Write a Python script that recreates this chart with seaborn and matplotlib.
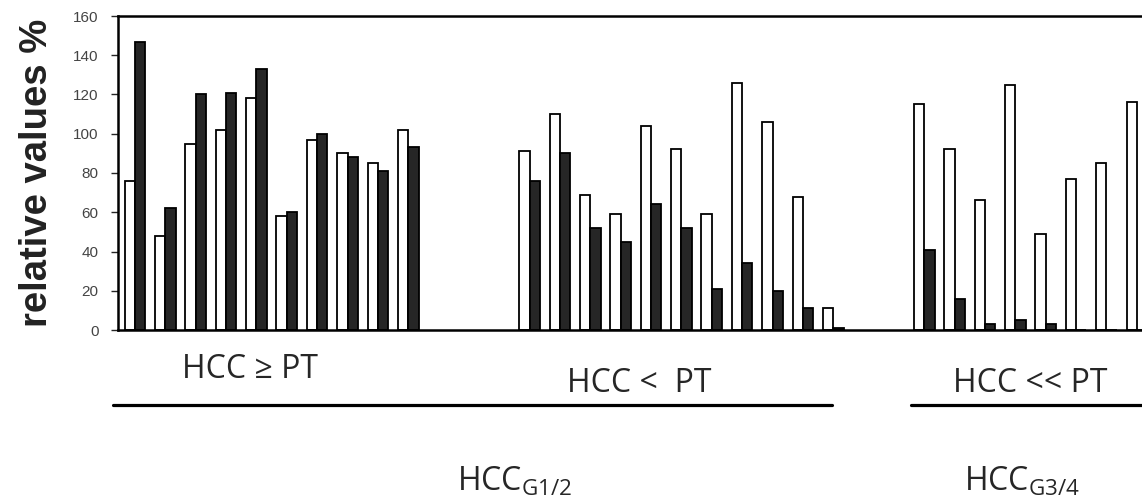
import numpy as np
import pandas as pd
import matplotlib
matplotlib.use("Agg")
import matplotlib.pyplot as plt
import seaborn as sns

# relative values (%), white bar = HCC, dark bar = PT
hcc_ge = [76, 48, 95, 102, 118, 58, 97, 90, 85, 102]
pt_ge = [147, 62, 120, 121, 133, 60, 100, 88, 81, 93]
hcc_lt = [91, 110, 69, 59, 104, 92, 59, 126, 106, 68, 11]
pt_lt = [76, 90, 52, 45, 64, 52, 21, 34, 20, 11, 1]
hcc_g34 = [115, 92, 66, 125, 49, 77, 85, 116]
pt_g34 = [41, 16, 3, 5, 3, 0, 0, 0]

group_names = ["ge", "lt", "g34"]
gaps_after = [3, 2, 0]  # empty slots between groups
ylabel = "relative values %"
yticks = [0, 20, 40, 60, 80, 100, 120, 140, 160]

# build long table + category order with empty spacer slots
rows = []
order = []
starts = {}
ends = {}
for name, hcc, pt, gap in zip(group_names, [hcc_ge, hcc_lt, hcc_g34],
                              [pt_ge, pt_lt, pt_g34], gaps_after):
    starts[name] = len(order)
    for i, (a, b) in enumerate(zip(hcc, pt)):
        cat = f"{name}_{i}"
        order.append(cat)
        rows.append({"sample": cat, "series": "HCC", "value": a})
        rows.append({"sample": cat, "series": "PT", "value": b})
    ends[name] = len(order) - 1
    for j in range(gap):
        order.append(f"{name}_gap{j}")
df = pd.DataFrame(rows)

sns.set_style("white")
plt.rcParams["font.family"] = ["Liberation Sans", "DejaVu Sans"]

fig = plt.figure(figsize=(11.42, 5.0), dpi=100)
ax = fig.add_axes([118 / 1142, 1 - 330 / 500, 1 - 118 / 1142, 314 / 500])

sns.barplot(data=df, x="sample", y="value", hue="series", order=order,
            hue_order=["HCC", "PT"], palette={"HCC": "white", "PT": "#262626"},
            edgecolor="black", linewidth=1.3, width=0.68, saturation=1,
            legend=False, ax=ax)

ax.set_xlim(-0.56, 33.17)
ax.set_ylim(0, 160)
ax.set_yticks(yticks)
ax.set_xticks([])
ax.set_xlabel("")
ax.set_ylabel(ylabel, fontsize=27.5, fontweight="bold", color="#222222")
ax.yaxis.set_label_coords(-0.062, 0.5)
ax.tick_params(axis="y", length=5, width=1, pad=9, labelsize=11,
               labelcolor="#444444", direction="out", left=True)
for s in ["left", "top", "bottom"]:
    ax.spines[s].set_visible(True)
    ax.spines[s].set_color("black")
    ax.spines[s].set_linewidth(1.8)
ax.spines["right"].set_visible(False)

# group brackets and labels below the axis
tr = ax.get_xaxis_transform()
lab_font = ["Open Sans", "DejaVu Sans"]
plt.rcParams["mathtext.fontset"] = "custom"
plt.rcParams["mathtext.rm"] = "Open Sans"
ax.plot([starts["ge"] - 0.72, ends["lt"] - 0.04], [-0.239, -0.239], transform=tr,
        clip_on=False, color="black", lw=2.3)
ax.plot([starts["g34"] - 0.45, ends["g34"] + 0.6], [-0.239, -0.239], transform=tr,
        clip_on=False, color="black", lw=2.3)

ax.text(3.8, -0.127, "HCC ≥ PT", transform=tr, ha="center", va="center",
        fontsize=23, family=lab_font)
ax.text(16.6, -0.169, "HCC <  PT", transform=tr, ha="center", va="center",
        fontsize=23, family=lab_font)
ax.text(29.5, -0.169, "HCC << PT", transform=tr, ha="center", va="center",
        fontsize=23, family=lab_font)
ax.text(12.5, -0.484, r"HCC$_{\mathrm{G1/2}}$", transform=tr, ha="center",
        va="center", fontsize=23, family=lab_font)
ax.text(29.2, -0.484, r"HCC$_{\mathrm{G3/4}}$", transform=tr, ha="center",
        va="center", fontsize=23, family=lab_font)

fig.savefig("out.png", dpi=100, facecolor="white")
